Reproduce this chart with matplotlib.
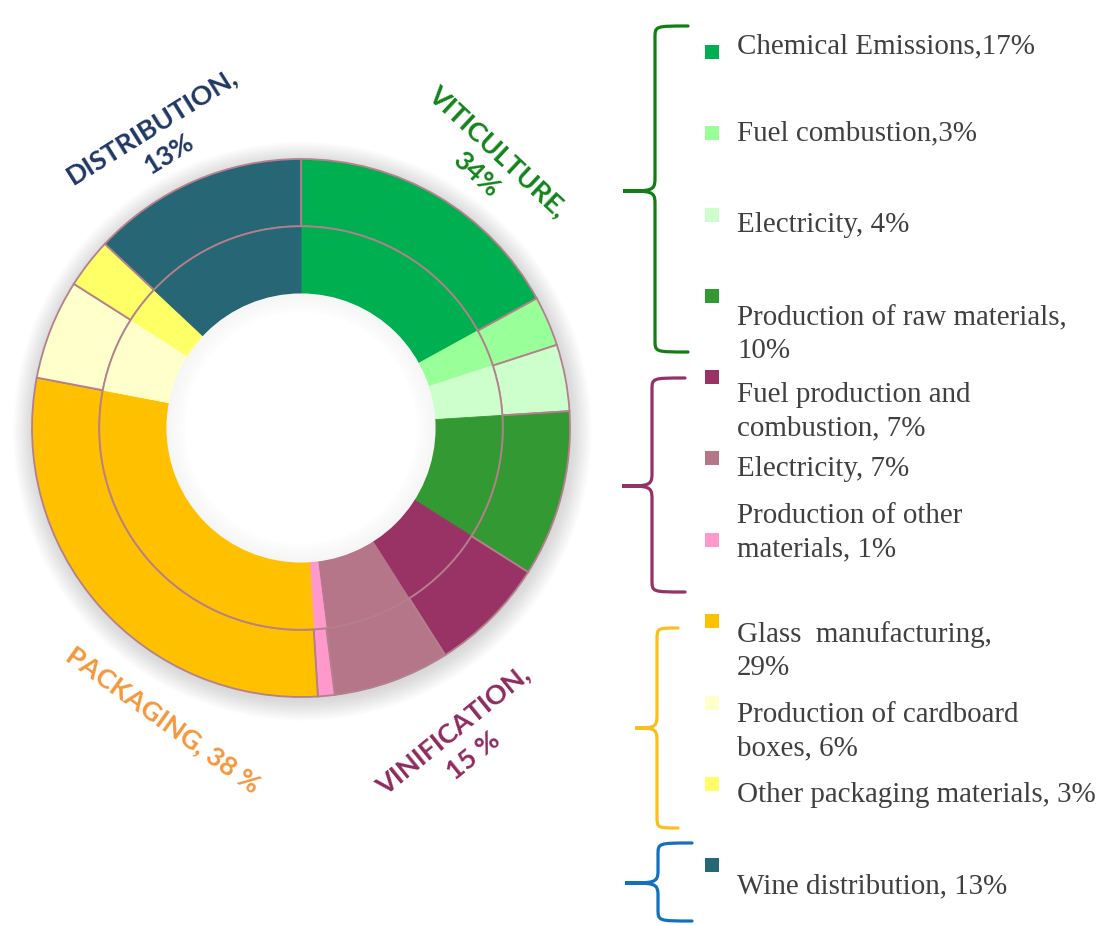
import numpy as np
import matplotlib
matplotlib.use('Agg')
import matplotlib.pyplot as plt
from matplotlib.patches import Circle, Wedge, PathPatch
from matplotlib.path import Path


# sub-category shares (%), clockwise from 12 o'clock
sub_values = [17, 3, 4, 10, 7, 7, 1, 29, 6, 3, 13]
sub_colors = ['#00b050', '#99ff99', '#ccffcc', '#339933',
              '#993366', '#b5768a', '#ff99cc',
              '#ffc000', '#ffffcc', '#ffff66',
              '#266675']
legend_labels = ['Chemical Emissions,17%', 'Fuel combustion,3%', 'Electricity, 4%',
                 'Production of raw materials,\n10%',
                 'Fuel production and\ncombustion, 7%', 'Electricity, 7%',
                 'Production of other\nmaterials, 1%',
                 'Glass  manufacturing,\n29%', 'Production of cardboard\nboxes, 6%',
                 'Other packaging materials, 3%',
                 'Wine distribution, 13%']

group_labels = ['VITICULTURE,\n34%', 'VINIFICATION,\n15 %', 'PACKAGING, 38 %', 'DISTRIBUTION,\n13%']
group_colors = ['#12841a', '#8e2a5e', '#f6973c', '#1f3864']
brace_colors = ['#0f7f12', '#953263', '#f9bf1e', '#1270c0']

edge_col = '#b57f8c'

W, H = 1101, 925
fig = plt.figure(figsize=(W / 100, H / 100), dpi=100)
fig.patch.set_facecolor('white')

# donut axes: centre (301, 428) px, radius 269 px
cx, cy, R = 301, 428, 269
half = 1.1 * R
pax = fig.add_axes([(cx - half) / W, (H - cy - half) / H, 2 * half / W, 2 * half / H])
pax.set_xlim(-1.1, 1.1)
pax.set_ylim(-1.1, 1.1)
pax.axis('off')

# soft drop shadow (rings only, so the hole stays white)
for r in np.linspace(1.0, 1.075, 14):
    pax.add_patch(Wedge((0.005, -0.012), r, 0, 360, width=r - 0.9,
                        color='#7a7a7a', alpha=0.018, lw=0))

outer, _ = pax.pie(sub_values, radius=1.0, colors=sub_colors, startangle=90,
                   counterclock=False,
                   wedgeprops=dict(width=0.25, edgecolor=edge_col, linewidth=1.3))
inner, _ = pax.pie(sub_values, radius=0.75, colors=sub_colors, startangle=90,
                   counterclock=False, wedgeprops=dict(width=0.25, linewidth=0.6))
for w in inner:
    w.set_edgecolor(w.get_facecolor())
pax.set_xlim(-1.1, 1.1)
pax.set_ylim(-1.1, 1.1)
pax.set_aspect('auto')
pax.add_patch(Circle((0, 0), 0.75, fill=False, edgecolor=edge_col, lw=1.3))

# inner shadow of the hole
pax.add_patch(Circle((0, 0), 0.5, color='white', lw=0))
n = 12
for i in range(n):
    r = 0.5 - i * 0.006
    pax.add_patch(Wedge((0, 0), r, 0, 360, width=0.006, color='#7a7a7a',
                        alpha=0.07 * (1 - i / n), lw=0))

# overlay in pixel coordinates
ax = fig.add_axes([0, 0, 1, 1])
ax.set_xlim(0, W)
ax.set_ylim(H, 0)
ax.axis('off')

# group labels around the ring
group_pos = [(487, 163, -43), (463, 743, 39), (163, 720, -35.6), (160, 140, 32)]
for lab, col, (x, y, rot) in zip(group_labels, group_colors, group_pos):
    ax.text(x, y, lab, color=col, fontsize=19.5, fontfamily='Lato', fontweight='bold',
            ha='center', va='center', rotation=rot, rotation_mode='anchor',
            linespacing=1.4)

# legend
text_base = [53, 140, 232, 325, 402, 476, 523, 642, 722, 802, 893]
marker_y = [52, 133, 215, 296, 377, 458, 540, 621, 703, 784, 865]
for lab, col, yb, ym in zip(legend_labels, sub_colors, text_base, marker_y):
    ax.scatter([712], [ym], marker='s', s=88, color=col, lw=0)
    for j, line in enumerate(lab.split('\n')):
        ax.text(737, yb + j * 33, line, fontsize=20.9, fontfamily='Liberation Serif',
                color='#404040', va='baseline', ha='left')


def brace(x_tip, y_tip, x_stem, x_end, y_top, y_bot, color, r=12):
    verts = [(x_end, y_top),
             (x_stem, y_top), (x_stem, y_top), (x_stem, y_top + r),
             (x_stem, y_tip - r),
             (x_stem, y_tip), (x_stem - 4, y_tip), (x_tip, y_tip),
             (x_stem - 4, y_tip), (x_stem, y_tip), (x_stem, y_tip + r),
             (x_stem, y_bot - r),
             (x_stem, y_bot), (x_stem, y_bot), (x_end, y_bot)]
    codes = [Path.MOVETO] + [Path.CURVE4] * 3 + [Path.LINETO] + [Path.CURVE4] * 6 \
        + [Path.LINETO] + [Path.CURVE4] * 3
    ax.add_patch(PathPatch(Path(verts, codes), fill=False, edgecolor=color,
                           lw=2.3, capstyle='round'))


brace_geom = [(623, 191, 655, 688, 26, 352),
              (622, 486, 652, 685, 378, 592),
              (635, 728, 657, 678, 628, 828),
              (625, 883, 658, 692, 843, 921)]
for g, col in zip(brace_geom, brace_colors):
    brace(*g, col)

fig.savefig('out.png', dpi=100, facecolor='white')
